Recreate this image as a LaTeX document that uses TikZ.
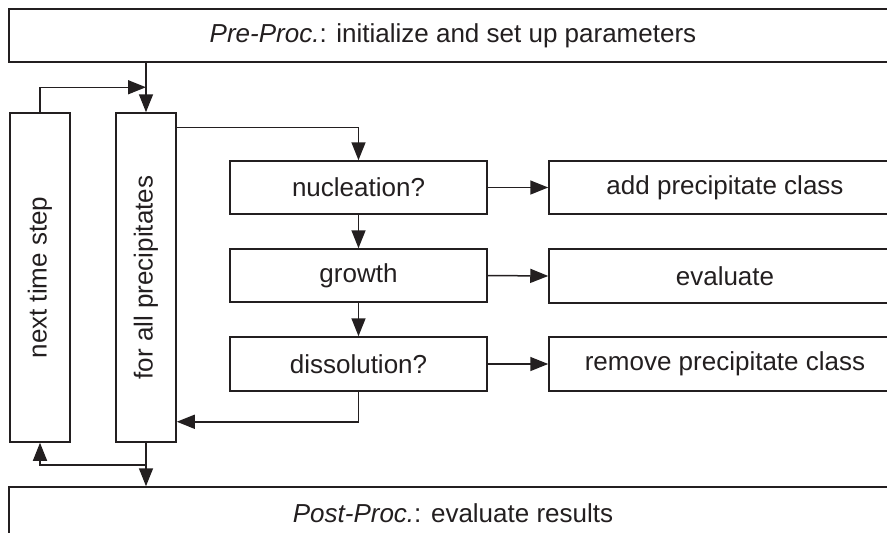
\documentclass[tikz,border=0pt]{standalone}
\usepackage{fontspec}
\setmainfont{Liberation Sans}
\usetikzlibrary{arrows.meta}
\definecolor{ink}{HTML}{231F20}
\tikzset{
  box/.style={draw=ink, line width=1.5pt, fill=white, inner sep=0pt, align=center,
    font=\fontsize{26}{30}\selectfont, text=ink},
  arr/.style={draw=ink, line width=1.5pt, -{Triangle[length=18pt,width=14pt]}}
}
\begin{document}
\begin{tikzpicture}[x=1pt,y=-1pt]
  \clip (0,0) rectangle (887,533);
  \fill[white] (0,0) rectangle (887,533);

  % pre- and post-processing bands
  \node[box, minimum width=888, minimum height=53] (pre) at (453,35.5)
    {\textit{Pre-Proc.}: initialize and set up parameters};
  \node[box, minimum width=888, minimum height=53] (post) at (453,513.5)
    {\textit{Post-Proc.}: evaluate results};

  % loop columns
  \node[box, minimum width=60, minimum height=329] (nts) at (40,277.5)
    {\rotatebox{90}{next time step}};
  \node[box, minimum width=60, minimum height=329] (fap) at (146,277.5)
    {\rotatebox{90}{for all precipitates}};

  % per-precipitate steps
  \node[box, minimum width=257, minimum height=53] (nuc) at (358.5,187.5) {nucleation?};
  \node[box, minimum width=257, minimum height=53] (gro) at (358.5,275.5) {growth};
  \node[box, minimum width=257, minimum height=54] (dis) at (358.5,364) {dissolution?};

  % actions
  \node[box, minimum width=352, minimum height=53] (add) at (725,187.5) {add precipitate class};
  \node[box, minimum width=352, minimum height=54] (eva) at (725,276) {evaluate};
  \node[box, minimum width=352, minimum height=54] (rem) at (725,364) {remove precipitate class};

  % control flow
  \draw[arr] (fap.north |- pre.south) -- (fap.north);
  \draw[arr] (nts.north) |- ([yshift=25pt]fap.north);
  \draw[arr] ([yshift=-15pt]fap.north east) -| (nuc.north);
  \draw[arr] (nuc.south) -- (gro.north);
  \draw[arr] (gro.south) -- (dis.north);
  \draw[arr] (nuc.east) -- (add.west);
  \draw[arr] (gro.east) -- (eva.west);
  \draw[arr] (dis.east) -- (rem.west);
  \draw[arr] (dis.south) |- ([yshift=21pt]fap.south east);
  \draw[arr] (fap.south) -- (fap.south |- post.north);
  \draw[arr] ([yshift=-22pt]fap.south) -| (nts.south);
\end{tikzpicture}
\end{document}
